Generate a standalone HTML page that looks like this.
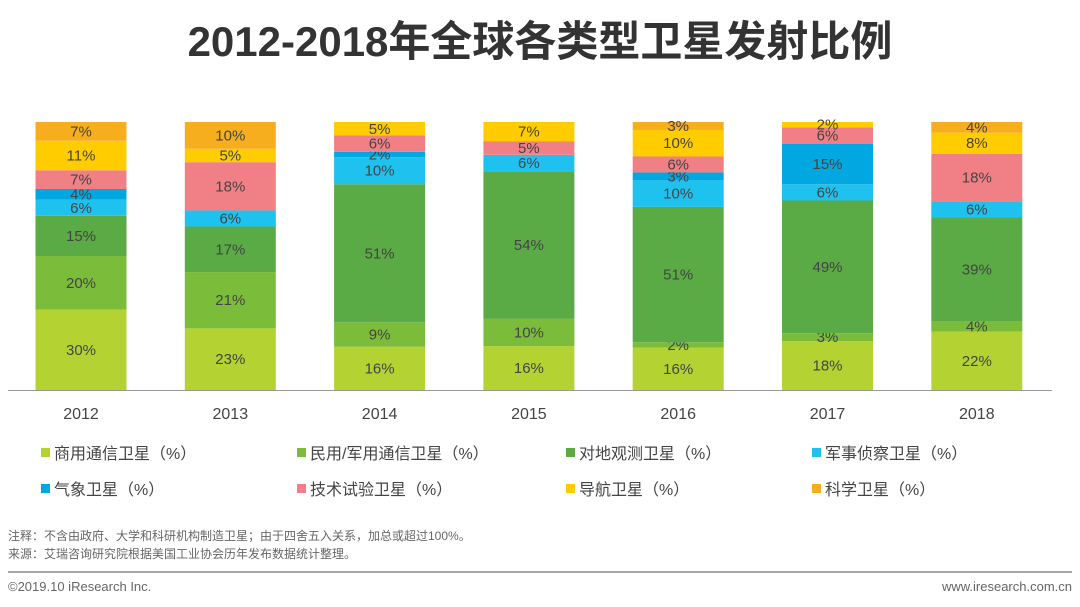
<!DOCTYPE html>
<html><head><meta charset="utf-8"><style>
body{margin:0;width:1080px;height:602px;background:#fff;overflow:hidden;font-family:"Liberation Sans","Noto Sans CJK SC",sans-serif;}
svg text{font-family:"Liberation Sans","Noto Sans CJK SC",sans-serif;}
</style></head><body>
<svg id="chart" width="1080" height="602">
<text x="540" y="56" text-anchor="middle" font-size="42" font-weight="bold" fill="#333">2012-2018年全球各类型卫星发射比例</text>
<line x1="8" y1="390.5" x2="1052" y2="390.5" stroke="#999" stroke-width="1"/>
<g id="bars"></g><g id="xlabels"></g><g id="legend"></g>
<text x="8" y="540" font-size="12" fill="#666">注释：不含由政府、大学和科研机构制造卫星；由于四舍五入关系，加总或超过100%。</text>
<text x="8" y="558" font-size="12" fill="#666">来源：艾瑞咨询研究院根据美国工业协会历年发布数据统计整理。</text>
<line x1="8" y1="572" x2="1072" y2="572" stroke="#888" stroke-width="1.5"/>
<text x="8" y="591" font-size="13" fill="#666">©2019.10 iResearch Inc.</text>
<text x="1072" y="591" font-size="13" fill="#666" text-anchor="end">www.iresearch.com.cn</text>
</svg>
<script>
const years=["2012","2013","2014","2015","2016","2017","2018"];
const seriesNames=["商用通信卫星（%）","民用/军用通信卫星（%）","对地观测卫星（%）","军事侦察卫星（%）","气象卫星（%）","技术试验卫星（%）","导航卫星（%）","科学卫星（%）"];
const commercial=[30,23,16,16,16,18,22];
const civilMilitary=[20,21,9,10,2,3,4];
const earthObs=[15,17,51,54,51,49,39];
const recon=[6,6,10,6,10,6,6];
const weather=[4,0,2,0,3,15,0];
const techTest=[7,18,6,5,6,6,18];
const navigation=[11,5,5,7,10,2,8];
const science=[7,10,0,0,3,0,4];
const series=[commercial,civilMilitary,earthObs,recon,weather,techTest,navigation,science];
const colors=["#b4d232","#7bbd3a","#5aaa45","#1fc1ef","#00a7e0","#f08085","#ffcc00","#f6ae1e"];
const ns="http://www.w3.org/2000/svg";
const baseY=390, fullH=268, barW=91;
const xc=i=>81+i*149.3;
years.forEach((yr,i)=>{
  const total=series.reduce((a,s)=>a+s[i],0);
  const pxPer=fullH/total;
  const y=v=>baseY-v*pxPer;
  let cum=0;
  series.forEach((s,k)=>{
    const v=s[i]; if(!v) return;
    const r=document.createElementNS(ns,'rect');
    r.setAttribute('x',xc(i)-barW/2); r.setAttribute('y',y(cum+v)); r.setAttribute('width',barW); r.setAttribute('height',v*pxPer); r.setAttribute('fill',colors[k]);
    
    
    document.getElementById('bars').appendChild(r);
    const t=document.createElementNS(ns,'text');
    t.setAttribute('x',xc(i)); t.setAttribute('y',y(cum+v/2)+5); t.setAttribute('text-anchor','middle'); t.setAttribute('font-size','15'); t.setAttribute('fill','#444');
    t.textContent=v+'%';
    
    
    document.getElementById('bars').appendChild(t);
    cum+=v;
  });
  const t=document.createElementNS(ns,'text');
  t.setAttribute('x',xc(i)); t.setAttribute('y',419); t.setAttribute('text-anchor','middle'); t.setAttribute('font-size','16'); t.setAttribute('fill','#444');
  t.textContent=yr;
  
  
  document.getElementById('xlabels').appendChild(t);
});
const lx=[41,297,566,812];
seriesNames.forEach((n,k)=>{
  const x=lx[k%4], yy=k<4?453:489;
  const g=document.createElementNS(ns,'g');
  
  
  const r=document.createElementNS(ns,'rect');
  r.setAttribute('x',x); r.setAttribute('y',yy-5); r.setAttribute('width',9); r.setAttribute('height',9); r.setAttribute('fill',colors[k]);
  const t=document.createElementNS(ns,'text');
  t.setAttribute('x',x+13); t.setAttribute('y',yy+6); t.setAttribute('font-size','16'); t.setAttribute('fill','#444');
  t.textContent=n;
  g.appendChild(r); g.appendChild(t); document.getElementById('legend').appendChild(g);
});
</script>
</body></html>
